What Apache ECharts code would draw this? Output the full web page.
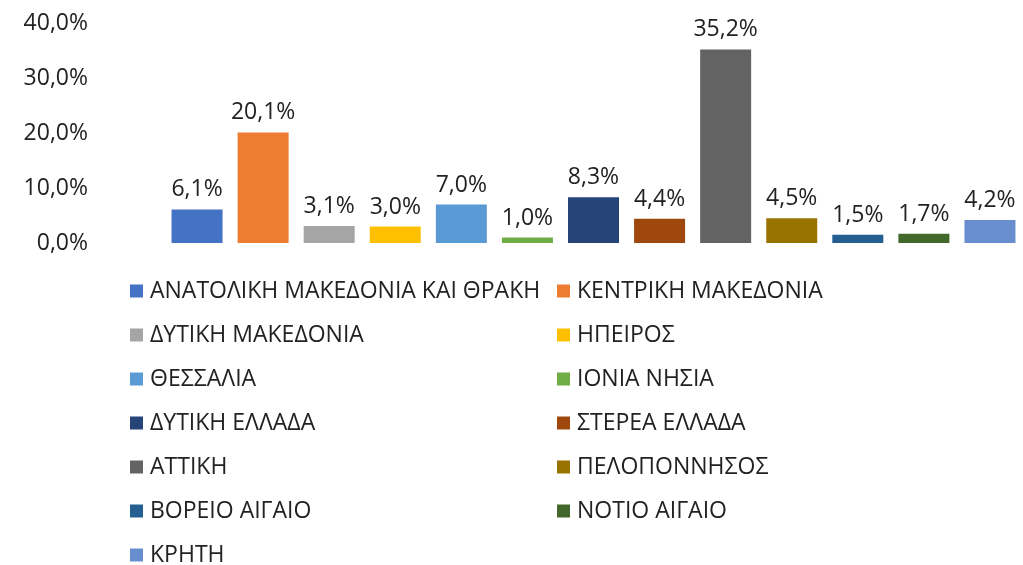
<!DOCTYPE html>
<html>
<head>
<meta charset="utf-8">
<script src="https://cdn.jsdelivr.net/npm/echarts@6/dist/echarts.min.js"></script>
<style>
  html, body { margin: 0; padding: 0; background: #fff; }
  #chart { width: 1023px; height: 565px; }
</style>
</head>
<body>
<div id="chart"></div>
<script>
// regions (categories)
const regions = [
  'ΑΝΑΤΟΛΙΚΗ ΜΑΚΕΔΟΝΙΑ ΚΑΙ ΘΡΑΚΗ', 'ΚΕΝΤΡΙΚΗ ΜΑΚΕΔΟΝΙΑ', 'ΔΥΤΙΚΗ ΜΑΚΕΔΟΝΙΑ',
  'ΗΠΕΙΡΟΣ', 'ΘΕΣΣΑΛΙΑ', 'ΙΟΝΙΑ ΝΗΣΙΑ', 'ΔΥΤΙΚΗ ΕΛΛΑΔΑ', 'ΣΤΕΡΕΑ ΕΛΛΑΔΑ',
  'ΑΤΤΙΚΗ', 'ΠΕΛΟΠΟΝΝΗΣΟΣ', 'ΒΟΡΕΙΟ ΑΙΓΑΙΟ', 'ΝΟΤΙΟ ΑΙΓΑΙΟ', 'ΚΡΗΤΗ'
];
// percentages
const shares = [6.1, 20.1, 3.1, 3.0, 7.0, 1.0, 8.3, 4.4, 35.2, 4.5, 1.5, 1.7, 4.2];
const colors = [
  '#4472C4', '#ED7D31', '#A5A5A5', '#FFC000', '#5B9BD5', '#70AD47', '#264478',
  '#9E480E', '#636363', '#997300', '#255E91', '#43682B', '#698ED0'
];
const yTicks = [0, 10, 20, 30, 40];

const fmt = v => v.toFixed(1).replace('.', ',') + '%';
const font = 'Open Sans';

const myChart = echarts.init(document.getElementById('chart'));

// one series per region, stacked so each bar stays in its own slot
const series = regions.map((name, i) => ({
  name: name,
  type: 'bar',
  stack: 'all',
  barWidth: 51,
  itemStyle: { color: colors[i] },
  label: {
    show: true,
    position: 'top',
    distance: 8,
    color: '#222',
    fontFamily: font,
    fontSize: 23,
    formatter: p => fmt(p.value)
  },
  data: shares.map((v, j) => (j === i ? v : '-'))
}));

const legendCommon = {
  orient: 'vertical',
  top: 269,
  height: 320,
  padding: 0,
  itemWidth: 13,
  itemHeight: 13,
  itemGap: 0,
  icon: 'rect',
  textStyle: {
    fontFamily: font, fontSize: 23, color: '#222', lineHeight: 44,
    padding: [0, 0, 0, 2]
  }
};

const options = {
  animation: false,
  grid: { left: 164, top: 23, width: 862, height: 220 },
  xAxis: {
    type: 'category',
    data: regions,
    axisLine: { show: false },
    axisTick: { show: false },
    axisLabel: { show: false }
  },
  yAxis: {
    type: 'value',
    min: yTicks[0],
    max: yTicks[yTicks.length - 1],
    interval: 10,
    splitLine: { show: false },
    axisLine: { show: false },
    axisTick: { show: false },
    axisLabel: {
      margin: 76,
      color: '#222',
      fontFamily: font,
      fontSize: 23,
      formatter: v => fmt(v)
    }
  },
  legend: [
    Object.assign({ left: 130, data: regions.filter((r, i) => i % 2 === 0) }, legendCommon),
    Object.assign({ left: 557, data: regions.filter((r, i) => i % 2 === 1) }, legendCommon)
  ],
  series: series
};

myChart.setOption(options);
</script>
</body>
</html>
